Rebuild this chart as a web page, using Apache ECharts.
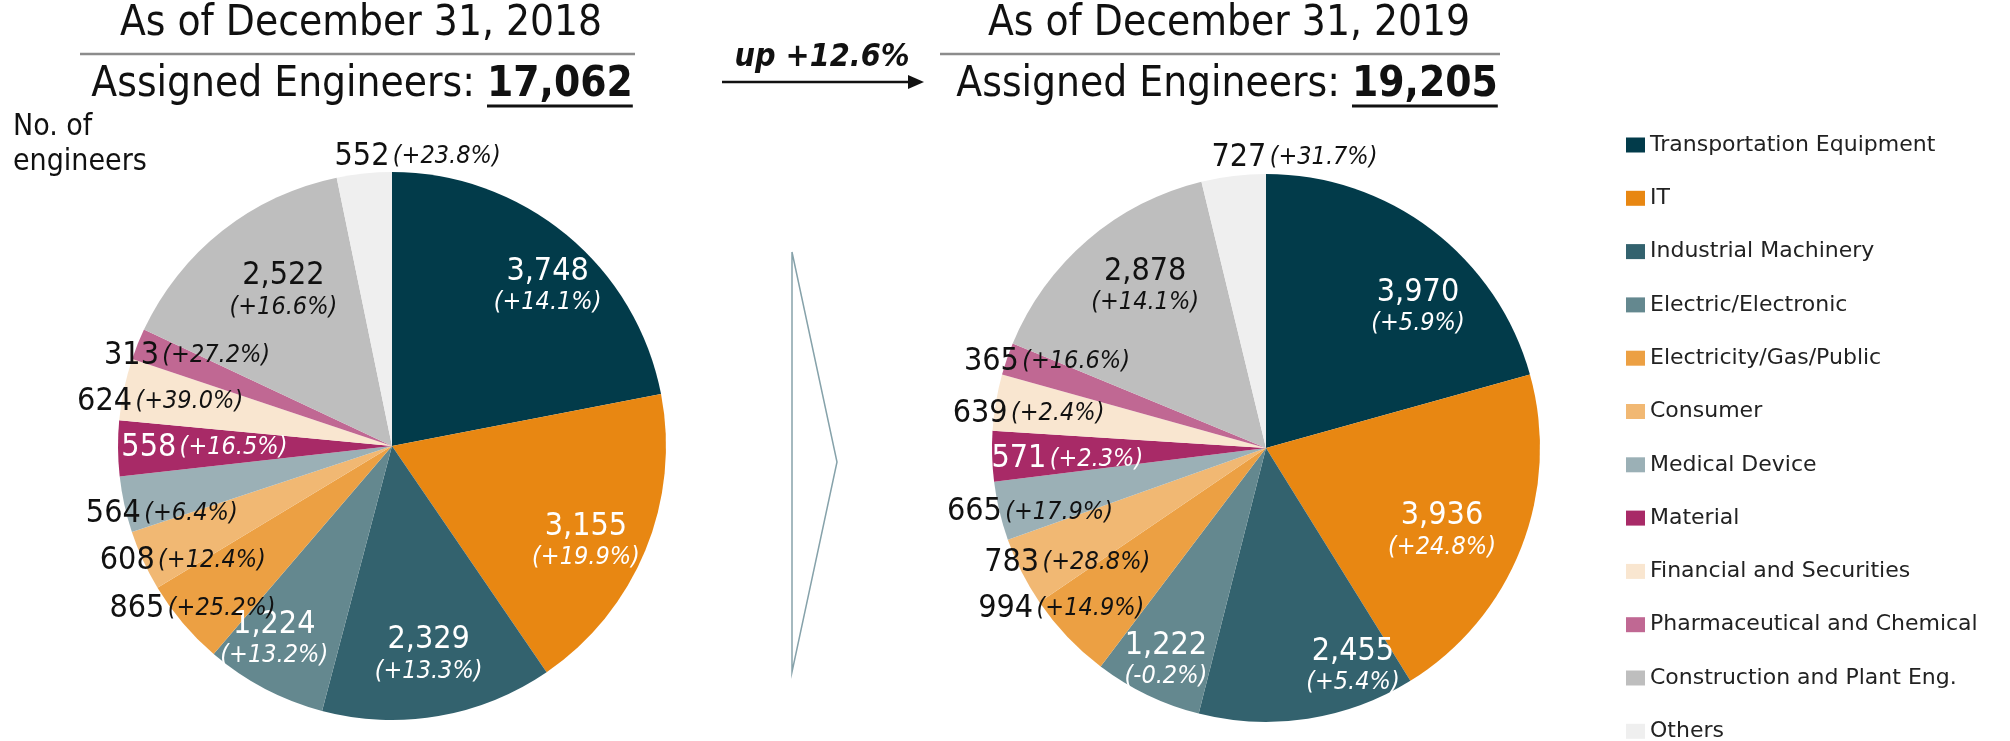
<!DOCTYPE html>
<html>
<head>
<meta charset="utf-8" />
<title>Assigned Engineers</title>
<script src="https://cdn.jsdelivr.net/npm/echarts@6/dist/echarts.min.js"></script>
<style>html,body{margin:0;padding:0;background:#fff;}</style>
</head>
<body>
<div id="main" style="width:2010px;height:741px;"></div>
<script type="text/javascript">
// data
var sectors = ['Transportation Equipment', 'IT', 'Industrial Machinery', 'Electric/Electronic',
    'Electricity/Gas/Public', 'Consumer', 'Medical Device', 'Material', 'Financial and Securities',
    'Pharmaceutical and Chemical', 'Construction and Plant Eng.', 'Others'];
var engineers2018 = [3748, 3155, 2329, 1224, 865, 608, 564, 558, 624, 313, 2522, 552];
var growth2018 = [14.1, 19.9, 13.3, 13.2, 25.2, 12.4, 6.4, 16.5, 39.0, 27.2, 16.6, 23.8];
var engineers2019 = [3970, 3936, 2455, 1222, 994, 783, 665, 571, 639, 365, 2878, 727];
var growth2019 = [5.9, 24.8, 5.4, -0.2, 14.9, 28.8, 17.9, 2.3, 2.4, 16.6, 14.1, 31.7];
var totals = ['17,062', '19,205'];
var dates = ['As of December 31, 2018', 'As of December 31, 2019'];
var overallGrowth = 'up +12.6%';

// styling
var colors = ['#023b4a', '#e88712', '#33626e', '#64888f', '#eca043', '#f1b873',
    '#9bb0b6', '#a82a67', '#f9e6d0', '#c06893', '#bebebe', '#efefef'];
var narrow = "'Liberation Sans Narrow', 'DejaVu Sans Condensed', 'Liberation Sans', sans-serif";
var stacked = [true, true, true, true, false, false, false, false, false, false, true, false];
var lightText = [true, true, true, true, false, false, false, true, false, false, false, false];
var R = 274;
var centers = [[392, 446], [1266, 448]];
// where each label sits, as a share of the radius, plus a small nudge
var labelReach = [
    [.80, .78, .77, .82, .91, .85, .86, .67, .85, .80, .69, 1.07],
    [.75, .69, .84, .85, .93, .82, .87, .71, .86, .85, .74, 1.07]
];
var labelNudge = [
    [[13, 15], [-8, 14], [0, -2], [-11, -8], [-5, -2], [7, 15], [5, 16], [0, 0], [1, 5], [3, -7], [11, -2], [56, 9]],
    [[25, 28], [-4, 14], [51, -12], [3, 0], [-16, -19], [6, 11], [1, 8], [0, 5], [0, 6], [6, -9], [14, -3], [64, 7]]
];

function fmtPct(g) {
    return '(' + (g >= 0 ? '+' : '') + g.toFixed(1) + '%)';
}

function buildPie(values, growth, k) {
    return {
        type: 'pie',
        name: dates[k],
        center: centers[k],
        radius: R,
        startAngle: 90,
        clockwise: true,
        silent: true,
        labelLine: { show: false },
        label: {
            show: true,
            position: 'inside',
            formatter: function (p) {
                var i = p.dataIndex;
                var n = '{n|' + values[i].toLocaleString('en-US') + '}';
                var g = '{p|' + fmtPct(growth[i]) + '}';
                return stacked[i] ? n + '\n' + g : n + ' ' + g;
            }
        },
        labelLayout: function (p) {
            var r = p.labelRect;
            var lx = r.x + r.width / 2, ly = r.y + r.height / 2;
            var c = centers[k];
            var f = labelReach[k][p.dataIndex] / 0.5 - 1;
            var nd = labelNudge[k][p.dataIndex];
            return { dx: (lx - c[0]) * f + nd[0], dy: (ly - c[1]) * f + nd[1] };
        },
        data: values.map(function (v, i) {
            var tc = lightText[i] ? '#fff' : '#111';
            return {
                name: sectors[i],
                value: v,
                itemStyle: { color: colors[i] },
                label: {
                    color: tc,
                    rich: {
                        n: { color: tc, fontFamily: narrow, fontSize: 32, lineHeight: 31 },
                        p: { color: tc, fontFamily: narrow, fontSize: 25, fontStyle: 'italic', lineHeight: 31 }
                    }
                }
            };
        })
    };
}

var ctx = document.createElement('canvas').getContext('2d');
function textWidth(str, font) {
    ctx.font = font;
    return ctx.measureText(str).width;
}

var headFont = 42;
var numStart = [487, 1352];
var graphics = [];
[0, 1].forEach(function (k) {
    var titleX = k === 0 ? 361 : 1229;
    graphics.push({
        type: 'text', x: titleX, y: 24,
        style: { text: dates[k], fontFamily: narrow, fontSize: headFont, fill: '#111', align: 'center', verticalAlign: 'middle' }
    });
    graphics.push({
        type: 'line',
        shape: k === 0 ? { x1: 80, y1: 54, x2: 635, y2: 54 } : { x1: 940, y1: 54, x2: 1500, y2: 54 },
        style: { stroke: '#8c8c8c', lineWidth: 2.5 }
    });
    graphics.push({
        type: 'text', x: numStart[k], y: 85,
        style: { text: 'Assigned Engineers: ', fontFamily: narrow, fontSize: headFont, fill: '#111', align: 'right', verticalAlign: 'middle' }
    });
    graphics.push({
        type: 'text', x: numStart[k], y: 85,
        style: { text: totals[k], fontFamily: narrow, fontSize: headFont, fontWeight: 'bold', fill: '#111', align: 'left', verticalAlign: 'middle' }
    });
    var w = textWidth(totals[k], 'bold ' + headFont + 'px ' + narrow);
    graphics.push({
        type: 'line',
        shape: { x1: numStart[k], y1: 106, x2: numStart[k] + w, y2: 106 },
        style: { stroke: '#111', lineWidth: 3 }
    });
});

graphics.push(
    {
        type: 'text', x: 822, y: 58,
        style: { text: overallGrowth, fontFamily: narrow, fontSize: 32, fontWeight: 'bold', fontStyle: 'italic', fill: '#111', align: 'center', verticalAlign: 'middle' }
    },
    { type: 'line', shape: { x1: 722, y1: 82, x2: 912, y2: 82 }, style: { stroke: '#111', lineWidth: 2.5 } },
    { type: 'polygon', shape: { points: [[924, 82], [908, 75], [908, 89]] }, style: { fill: '#111' } },
    {
        type: 'text', x: 13, y: 110,
        style: { text: 'No. of\nengineers', fontFamily: narrow, fontSize: 30, lineHeight: 35, fill: '#111', align: 'left', verticalAlign: 'top' }
    },
    {
        type: 'polyline',
        shape: { points: [[792, 252], [837, 462], [792, 672], [792, 252]] },
        style: { stroke: '#86a2aa', lineWidth: 1.5, fill: null }
    }
);

var myChart = echarts.init(document.getElementById('main'));
myChart.setOption({
    animation: false,
    legend: {
        orient: 'vertical',
        left: 1626,
        top: 133,
        height: 640,
        padding: 0,
        icon: 'rect',
        itemWidth: 19,
        itemHeight: 15,
        itemGap: 29.3,
        selectedMode: false,
        textStyle: { fontFamily: 'DejaVu Sans', fontSize: 22, lineHeight: 24, color: '#222' },
        data: sectors
    },
    graphic: graphics,
    series: [buildPie(engineers2018, growth2018, 0), buildPie(engineers2019, growth2019, 1)]
});
</script>
</body>
</html>
